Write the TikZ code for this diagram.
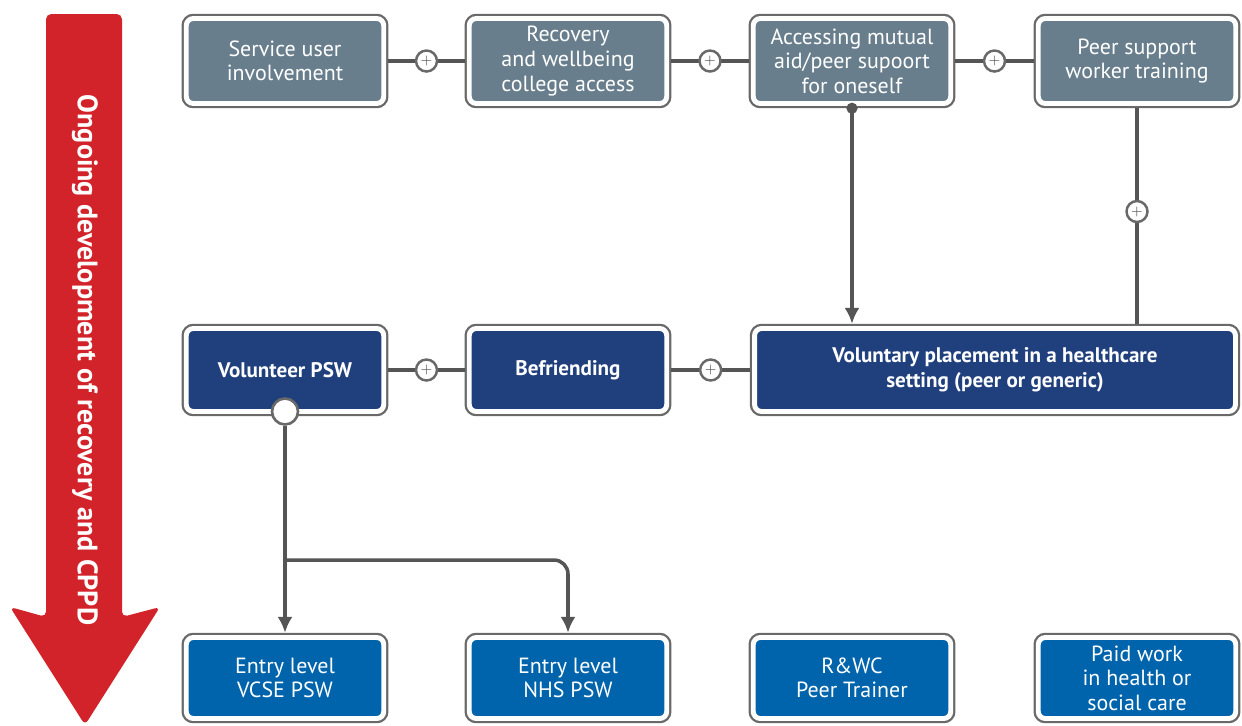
\documentclass[tikz,border=0pt]{standalone}
\usepackage{fontspec}
\setmainfont{PT Sans}
\usetikzlibrary{arrows.meta, positioning}
\definecolor{TrainColor}{RGB}{104,126,141}
\definecolor{VolunteerColor}{RGB}{32,63,125}
\definecolor{RoleColor}{RGB}{0,100,173}
\definecolor{FrameColor}{RGB}{105,105,105}
\definecolor{LinkColor}{RGB}{85,85,85}
\definecolor{ArrowRed}{RGB}{210,35,42}

\begin{document}
\begin{tikzpicture}[
    x=0.02cm, y=-0.02cm,
    >=Latex,
    stage/.style={
        rounded corners=4pt, draw=white, line width=2.8pt, outer sep=0pt,
        preaction={draw=FrameColor, line width=5.4pt},
        minimum width=3.95cm, minimum height=1.7cm, align=center,
        text=white, inner sep=2pt, font=\fontsize{12.5}{14}\selectfont
    },
    train/.style={stage, fill=TrainColor},
    vol/.style={stage, fill=VolunteerColor, minimum height=1.66cm,
        font=\bfseries\fontsize{12}{14}\selectfont},
    role/.style={stage, fill=RoleColor, minimum height=1.62cm},
    link/.style={draw=LinkColor, line width=2pt,
        shorten <=2.7pt, shorten >=2.7pt},
    arr/.style={link, -{Latex[length=9pt, width=8.5pt]}},
    plus/.style={
        circle, draw=FrameColor, line width=1.4pt, fill=white,
        minimum size=0.42cm, inner sep=0pt, text=LinkColor,
        font=\bfseries\footnotesize
    },
    hub/.style={
        circle, draw=FrameColor, line width=1.5pt, fill=white,
        minimum size=0.52cm, inner sep=0pt
    },
]

\useasboundingbox (0,0) rectangle (1242,725);

%% Red arrow
\fill[ArrowRed, rounded corners=3pt]
    (46,617) -- (46,14) -- (122,14) -- (122,617)
    -- (160,607) -- (85,725) -- (10,607) -- cycle;
\node[rotate=-90, text=white, font=\bfseries\fontsize{16}{18}\selectfont]
    (cppd) at (85,360) {Ongoing development of recovery and CPPD};

%% Training row
\node[train] (sui) at (285,61)  {Service user\\involvement};
\node[train] (rwc) at (568,61)  {Recovery\\and wellbeing\\college access};
\node[train] (mut) at (852,61)  {Accessing mutual\\aid/peer supoort\\for oneself};
\node[train] (psw) at (1137,61) {Peer support\\worker training};

\draw[link] (sui) -- node[plus] {$+$} (rwc);
\draw[link] (rwc) -- node[plus] {$+$} (mut);
\draw[link] (mut) -- node[plus] {$+$} (psw);

%% Volunteer row
\node[vol] (vpsw) at (285,370) {Volunteer PSW};
\node[vol] (bef)  at (568,370) {Befriending};
\node[vol, minimum width=9.62cm] (place) at (995,370)
    {Voluntary placement in a healthcare\\setting (peer or generic)};

\draw[link] (vpsw) -- node[plus] {$+$} (bef);
\draw[link] (bef) -- node[plus] {$+$} (place);

\draw[arr] (mut.south) -- (mut.south |- place.north);
\fill[LinkColor] ([yshift=-2.7pt]mut.south) circle (3.2pt);
\draw[link] (psw.south) -- node[plus, pos=0.48] {$+$} (psw.south |- place.north);

%% Roles row
\node[role] (vcse)    at (285,678)  {Entry level\\VCSE PSW};
\node[role] (nhs)     at (568,678)  {Entry level\\NHS PSW};
\node[role] (trainer) at (852,678)  {R\&WC\\Peer Trainer};
\node[role] (paid)    at (1137,678) {Paid work\\in health or\\social care};

\node[hub] (fork) at (vpsw.south) {};
\coordinate (split) at (285,560);
\draw[arr, shorten <=0pt] (fork) -- (vcse);
\draw[arr, shorten <=0pt, rounded corners=8pt] (split) -| (nhs);

\end{tikzpicture}
\end{document}
